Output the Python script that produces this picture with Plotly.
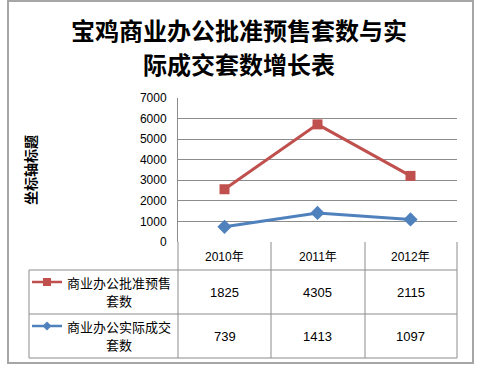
import plotly.graph_objects as go

categories = ["2010年", "2011年", "2012年"]
presale = [1825, 4305, 2115]          # 商业办公批准预售套数
actual = [739, 1413, 1097]            # 商业办公实际成交套数
series_names = [["商业办公批准预售", "套数"], ["商业办公实际成交", "套数"]]
y_ticks = [0, 1000, 2000, 3000, 4000, 5000, 6000, 7000]

# stacked line chart: the first series is drawn on top of the second
stack_top = [a + p for a, p in zip(actual, presale)]

RED = "#C0504D"
BLUE = "#4F81BD"
GRID = "#8C8C8C"
FW, FH = 479, 367
L, R, T, B = 178, 22, 98, 125
PW, PH = FW - L - R, FH - T - B
CJK = "Noto Sans CJK SC"
NUM = "Liberation Sans, Noto Sans CJK SC"


def X(px):
    return (px - L) / PW


def Y(py):
    return (FH - B - py) / PH


fig = go.Figure()
fig.add_trace(go.Scatter(
    x=categories, y=actual, mode="lines+markers",
    line=dict(color=BLUE, width=3),
    marker=dict(symbol="diamond", size=11, color=BLUE),
    showlegend=False))
fig.add_trace(go.Scatter(
    x=categories, y=stack_top, mode="lines+markers",
    line=dict(color=RED, width=3),
    marker=dict(symbol="square", size=10, color=RED),
    showlegend=False))

shapes = []
ann = []

def hline(x0, x1, py, color=GRID, w=1):
    shapes.append(dict(type="line", xref="paper", yref="paper",
                       x0=X(x0), x1=X(x1), y0=Y(py), y1=Y(py),
                       line=dict(color=color, width=w)))

def vline(px, y0, y1, color=GRID, w=1):
    shapes.append(dict(type="line", xref="paper", yref="paper",
                       x0=X(px), x1=X(px), y0=Y(y0), y1=Y(y1),
                       line=dict(color=color, width=w)))

def text(px, py, s, font, angle=0):
    ann.append(dict(x=X(px), y=Y(py), xref="paper", yref="paper", text=s,
                    showarrow=False, xanchor="center", yanchor="middle",
                    align="center", textangle=angle, font=font))

# outer chart border
shapes.append(dict(type="rect", xref="paper", yref="paper",
                   x0=X(8), x1=X(473), y0=Y(1), y1=Y(363),
                   line=dict(color="#A6A6A6", width=2)))

# data table grid
cols = [178, 271, 365, 457]
for c in cols:
    vline(c, 242, 358)
vline(29, 270, 358)
hline(29, 457, 270)
hline(29, 457, 314)
hline(29, 457, 358)

# category labels in header row
for c in categories:
    ann.append(dict(x=c, xref="x", y=Y(257), yref="paper", text=c,
                    showarrow=False, xanchor="center", yanchor="middle",
                    font=dict(family=NUM, size=12, color="#000")))

# row values
row_y = [292, 336]
for vals, py in zip([presale, actual], row_y):
    for c, v in zip(categories, vals):
        ann.append(dict(x=c, xref="x", y=Y(py), yref="paper", text=str(v),
                        showarrow=False, xanchor="center", yanchor="middle",
                        font=dict(family=NUM, size=13, color="#000")))

# row headers with legend keys
key_y = [282, 326]
colors = [RED, BLUE]
for lines, ky, col, i in zip(series_names, key_y, colors, range(2)):
    text(119, ky, lines[0], dict(family=CJK, size=13, color="#000"))
    text(119, ky + 18, lines[1], dict(family=CJK, size=13, color="#000"))
    shapes.append(dict(type="line", xref="paper", yref="paper",
                       x0=X(32), x1=X(62), y0=Y(ky), y1=Y(ky),
                       line=dict(color=col, width=2.5)))
    if i == 0:
        shapes.append(dict(type="rect", xref="paper", yref="paper",
                           x0=X(43), x1=X(51), y0=Y(ky - 4), y1=Y(ky + 4),
                           fillcolor=col, line=dict(width=0)))
    else:
        path = "M {} {} L {} {} L {} {} L {} {} Z".format(
            X(47), Y(ky - 4.5), X(51.5), Y(ky), X(47), Y(ky + 4.5), X(42.5), Y(ky))
        shapes.append(dict(type="path", xref="paper", yref="paper", path=path,
                           fillcolor=col, line=dict(width=0)))

# title lines
text(239, 30, "<b>宝鸡商业办公批准预售套数与实</b>", dict(family=CJK, size=24, color="#000"))
text(239, 63, "<b>际成交套数增长表</b>", dict(family=CJK, size=24, color="#000"))
# y axis title
text(30, 170, "<b>坐标轴标题</b>", dict(family=CJK, size=14, color="#000"), angle=-90)

fig.update_layout(
    width=FW, height=FH,
    margin=dict(l=L, r=R, t=T, b=B),
    paper_bgcolor="white", plot_bgcolor="white",
    shapes=shapes, annotations=ann,
    xaxis=dict(type="category", range=[-0.5, 2.5], showticklabels=False,
               showgrid=False, zeroline=False, showline=False, ticks=""),
    yaxis=dict(range=[0, 7000], tickvals=y_ticks, showgrid=True,
               gridcolor=GRID, gridwidth=1, zeroline=False,
               showline=True, linecolor=GRID, linewidth=1, ticks="",
               ticklabelstandoff=8,
               tickfont=dict(family=NUM, size=12, color="#000")),
)

fig.write_html("out.html", config={"displayModeBar": False},
               post_script="document.body.style.margin='0';")
